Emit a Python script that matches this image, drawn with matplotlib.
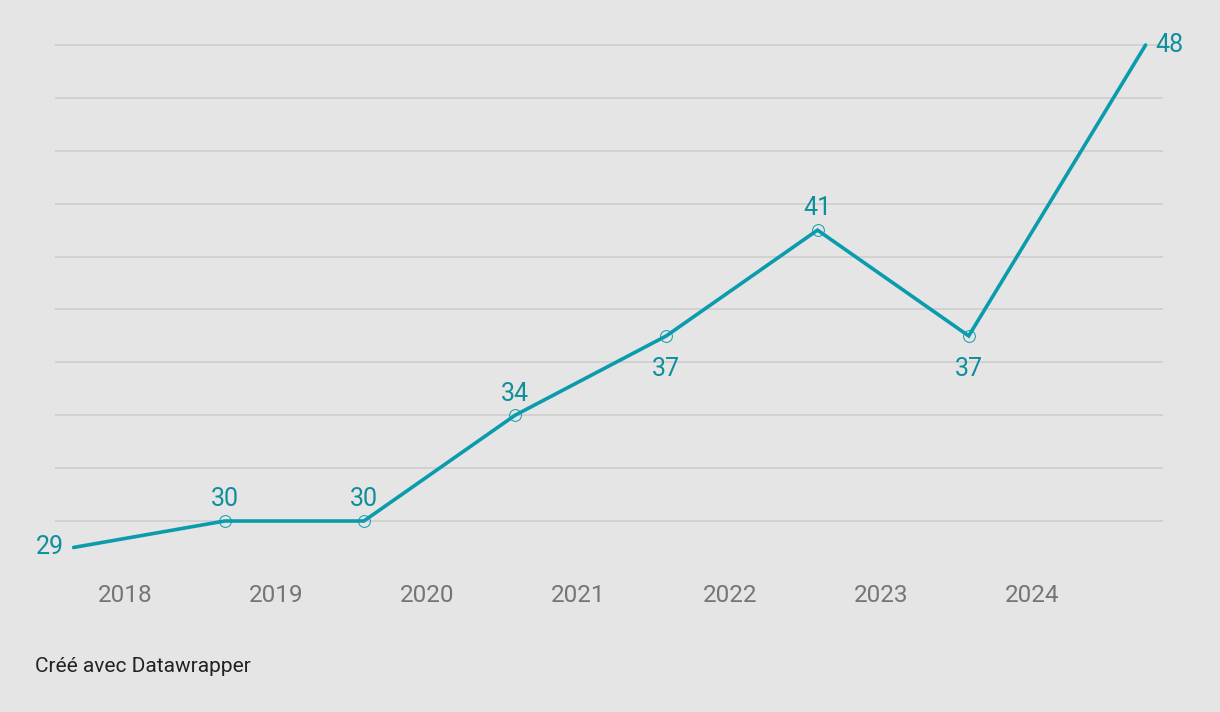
import matplotlib
matplotlib.use("Agg")
import matplotlib.pyplot as plt

# Data (dates as decimal years)
dates = [2018.16, 2019.16, 2020.08, 2021.08, 2022.08, 2023.08, 2024.08, 2025.25]
values = [29, 30, 30, 34, 37, 41, 37, 48]
label_pos = ["left", "above", "above", "above", "below", "above", "below", "right"]
year_labels = ["2018", "2019", "2020", "2021", "2022", "2023", "2024"]
year_ticks = [2018.5, 2019.5, 2020.5, 2021.5, 2022.5, 2023.5, 2024.5]
grid_values = [30, 32, 34, 36, 38, 40, 42, 44, 46, 48]

BG = "#e5e5e5"
TEAL = "#0a9cac"
LABEL = "#0e8f9c"
GRID = "#cfcfcf"

plt.rcParams['font.family'] = ['Roboto', 'DejaVu Sans']

fig = plt.figure(figsize=(12.2, 7.12), dpi=100, facecolor=BG)
ax = fig.add_axes([55/1220, 1-573.9/712, (1163-55)/1220, (573.9-18.56)/712])
ax.set_facecolor(BG)
ax.set_xlim(2018.037, 2025.365)
ax.set_ylim(28, 49)

for g in grid_values:
    ax.axhline(g, color=GRID, lw=1.3, zorder=1)

ax.plot(dates, values, color=TEAL, lw=2.6, zorder=3, solid_capstyle='round', solid_joinstyle='miter')
ax.plot(dates[1:-1], values[1:-1], ls='none', marker='o', ms=8.5, mfc='none',
        mec=TEAL, mew=0.7, zorder=4)

fs = 18
for d, v, p in zip(dates, values, label_pos):
    if p == "left":
        ax.annotate(str(v), (d, v), xytext=(-7, 0), textcoords='offset points',
                    ha='right', va='center', color=LABEL, fontsize=fs)
    elif p == "right":
        ax.annotate(str(v), (d, v), xytext=(7, 0), textcoords='offset points',
                    ha='left', va='center', color=LABEL, fontsize=fs)
    elif p == "above":
        ax.annotate(str(v), (d, v), xytext=(0, 7), textcoords='offset points',
                    ha='center', va='bottom', color=LABEL, fontsize=fs)
    else:
        ax.annotate(str(v), (d, v), xytext=(0, -15), textcoords='offset points',
                    ha='center', va='top', color=LABEL, fontsize=fs)

ax.set_xticks(year_ticks)
ax.set_xticklabels(year_labels, color="#757575", fontsize=17.5)
ax.tick_params(axis='x', length=0, pad=7)
ax.set_yticks([])
for s in ax.spines.values():
    s.set_visible(False)

fig.text(35/1220, 1-666/712, "Créé avec Datawrapper", ha='left', va='center',
         color="#222222", fontsize=15)

fig.savefig("out.png", dpi=100, facecolor=BG)
